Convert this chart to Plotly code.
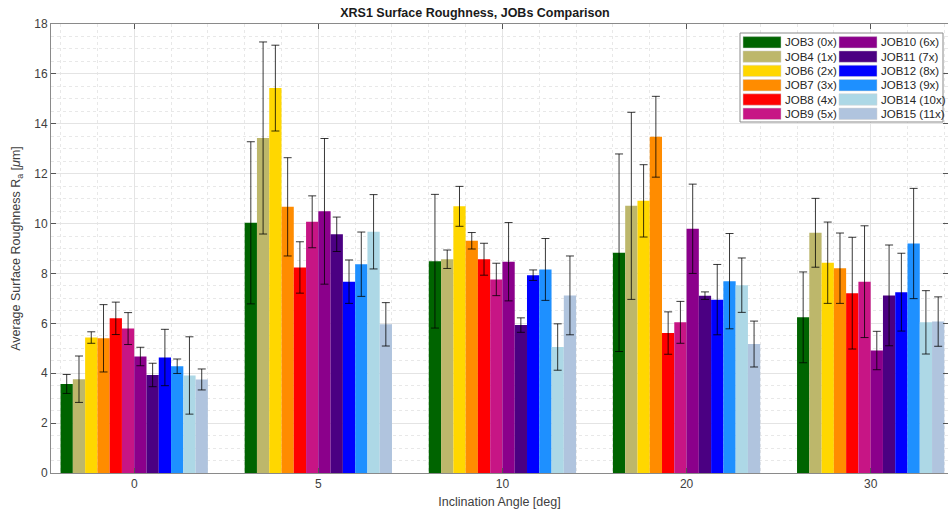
import plotly.graph_objects as go

# ---------------- data ----------------
angles = ["0", "5", "10", "20", "30"]
jobs = ["JOB3 (0x)", "JOB4 (1x)", "JOB6 (2x)", "JOB7 (3x)", "JOB8 (4x)", "JOB9 (5x)",
        "JOB10 (6x)", "JOB11 (7x)", "JOB12 (8x)", "JOB13 (9x)", "JOB14 (10x)", "JOB15 (11x)"]
colors = ["#006400", "#BDB76B", "#FFD700", "#FF8C00", "#FF0000", "#C71585",
          "#8B008B", "#4B0082", "#0000FF", "#1E90FF", "#ADD8E6", "#B0C4DE"]

job3 = [3.57, 10.03, 8.49, 8.83, 6.24]
job4 = [3.76, 13.43, 8.57, 10.71, 9.63]
job6 = [5.43, 15.43, 10.69, 10.91, 8.43]
job7 = [5.40, 10.67, 9.31, 13.48, 8.21]
job8 = [6.20, 8.24, 8.57, 5.61, 7.21]
job9 = [5.79, 10.07, 7.76, 6.04, 7.67]
job10 = [4.67, 10.49, 8.47, 9.79, 4.91]
job11 = [3.93, 9.57, 5.93, 7.11, 7.12]
job12 = [4.63, 7.67, 7.93, 6.95, 7.25]
job13 = [4.28, 8.37, 8.16, 7.69, 9.20]
job14 = [3.91, 9.67, 5.05, 7.53, 6.04]
job15 = [3.75, 5.96, 7.12, 5.17, 6.07]

err3 = [0.38, 3.25, 2.68, 3.96, 1.82]
err4 = [0.93, 3.85, 0.37, 3.75, 1.38]
err6 = [0.23, 1.72, 0.80, 1.45, 1.63]
err7 = [1.35, 1.97, 0.33, 1.62, 1.41]
err8 = [0.65, 1.03, 0.64, 0.85, 2.24]
err9 = [0.64, 1.04, 0.65, 0.84, 2.24]
err10 = [0.37, 2.92, 1.57, 1.79, 0.77]
err11 = [0.47, 0.69, 0.29, 0.15, 2.02]
err12 = [1.13, 0.87, 0.21, 1.41, 1.56]
err13 = [0.29, 1.29, 1.24, 1.91, 2.21]
err14 = [1.55, 1.49, 0.93, 1.09, 1.27]
err15 = [0.42, 0.87, 1.58, 0.92, 0.99]

yticks = [0, 2, 4, 6, 8, 10, 12, 14, 16, 18]

values = [job3, job4, job6, job7, job8, job9, job10, job11, job12, job13, job14, job15]
errors = [err3, err4, err6, err7, err8, err9, err10, err11, err12, err13, err14, err15]

# ---------------- figure ----------------
W, H = 948, 516
L, R, T, B = 51, 0, 24, 43
xpos = list(range(len(angles)))

fig = go.Figure()
for name, col, v, e in zip(jobs, colors, values, errors):
    fig.add_trace(go.Bar(
        x=xpos, y=v, name=name, marker=dict(color=col, line=dict(width=0)),
        error_y=dict(type="data", array=e, visible=True,
                     color="rgba(0,0,0,0.78)", thickness=1, width=4),
        showlegend=False,
    ))

font = "Liberation Sans, Arial, sans-serif"
fig.update_layout(
    width=W, height=H,
    margin=dict(l=L, r=R, t=T, b=B),
    paper_bgcolor="white", plot_bgcolor="white",
    barmode="group", bargap=0.2, bargroupgap=0,
    font=dict(family=font, size=12, color="#404040"),
    title=dict(text="<b>XRS1 Surface Roughness, JOBs Comparison</b>",
               x=475 / W, xanchor="center", y=1 - 13 / H, yanchor="middle",
               font=dict(size=12.5, color="#1a1a1a", family=font)),
    showlegend=False,
)
fig.update_xaxes(
    range=[-0.452, 4.42], tickvals=xpos, ticktext=angles,
    ticks="inside", ticklen=5, tickcolor="#555", showline=True, linecolor="#8a8a8a",
    linewidth=1, mirror="ticks", showgrid=True, gridcolor="#e4e4e4", gridwidth=1,
    zeroline=False,
    minor=dict(dtick=0.2, tick0=0, showgrid=True, gridcolor="#e8e8e8", griddash="dot", ticks=""),
    title=dict(text="Inclination Angle [deg]", font=dict(size=12.5, color="#404040"), standoff=6),
    tickfont=dict(size=12, color="#404040"),
)
fig.update_yaxes(
    range=[0, 18], tickvals=yticks,
    ticks="inside", ticklen=5, tickcolor="#555", showline=True, linecolor="#8a8a8a",
    linewidth=1, mirror="ticks", showgrid=True, gridcolor="#e4e4e4", gridwidth=1,
    zeroline=False,
    minor=dict(dtick=0.5, tick0=0, showgrid=True, gridcolor="#e8e8e8", griddash="dot", ticks=""),
    title=dict(text="Average Surface Roughness R<sub>a</sub> [<i>\u03bc</i>m]",
               font=dict(size=12.5, color="#404040"), standoff=10),
    tickfont=dict(size=12, color="#404040"),
)

# ---------------- manual two-column legend ----------------
pw, ph = W - L - R, H - T - B


def px_x(px):
    return (px - L) / pw


def px_y(py):
    return (H - B - py) / ph


fig.add_shape(type="rect", xref="paper", yref="paper",
              x0=px_x(740), x1=px_x(943), y0=px_y(122), y1=px_y(33),
              fillcolor="white", line=dict(color="#8a8a8a", width=1), layer="above")
rows = 6
col_x = [743, 839]
row_y0 = 42.3
row_dy = 14.3
for i, (name, col) in enumerate(zip(jobs, colors)):
    c, r = divmod(i, rows)
    cy = row_y0 + r * row_dy
    sx = col_x[c]
    fig.add_shape(type="rect", xref="paper", yref="paper",
                  x0=px_x(sx), x1=px_x(sx + 38), y0=px_y(cy + 5.7), y1=px_y(cy - 5.7),
                  fillcolor=col, line=dict(color="#d0d0d0", width=0.5), layer="above")
    fig.add_annotation(xref="paper", yref="paper", x=px_x(sx + 40), y=px_y(cy),
                       text=name, showarrow=False, xanchor="left", yanchor="middle",
                       font=dict(size=11.5, color="#262626", family=font))

fig.write_html(
    "out.html",
    config={"displayModeBar": False},
    post_script="document.body.style.margin='0';document.body.style.overflow='hidden';",
)
